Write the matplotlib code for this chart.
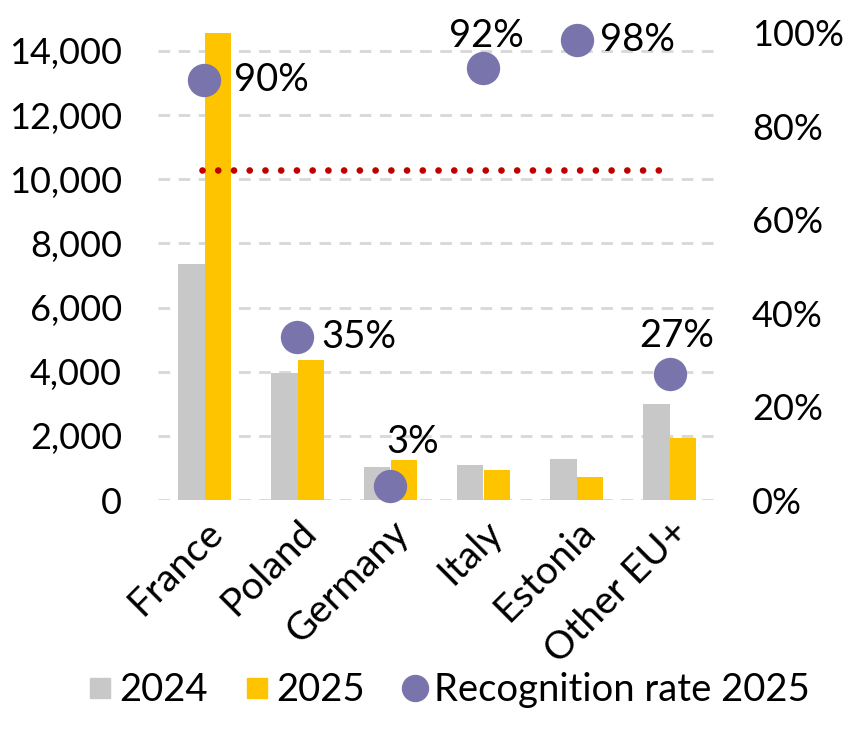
import numpy as np
import matplotlib
matplotlib.use("Agg")
from matplotlib import pyplot as plt
from matplotlib.lines import Line2D
from matplotlib.ticker import FuncFormatter

plt.rcParams['font.family'] = ['Lato', 'DejaVu Sans']

# data
countries = ["France", "Poland", "Germany", "Italy", "Estonia", "Other EU+"]
y2024 = [7350, 3970, 1020, 1090, 1270, 2990]
y2025 = [14560, 4360, 1250, 935, 710, 1940]
recog = [0.90, 0.35, 0.03, 0.925, 0.985, 0.27]
recog_labels = ["90%", "35%", "3%", "92%", "98%", "27%"]
threshold = 0.707
# where each rate label sits relative to its dot (points)
label_off = [(21, 0), (17, 0), (16, 32), (2, 23), (17, 0), (5, 27)]
label_ha = ["left", "left", "center", "center", "left", "center"]

c_grey = "#C8C8C8"
c_yellow = "#FFC400"
c_purple = "#7A74AC"
c_red = "#C00000"

fig = plt.figure(figsize=(8.5, 7.3), dpi=100)
ax = fig.add_axes([158/850, 1-500/730, (716-158)/850, (500-33)/730])
ax2 = ax.twinx()

x = np.arange(len(countries))
w = 0.287
ax.bar(x - w/2, y2024, w, color=c_grey, zorder=2)
ax.bar(x + w/2, y2025, w, color=c_yellow, zorder=2)

ax.set_xlim(-0.5, 5.5)
ax.set_ylim(0, 14560)
ax.set_yticks(np.arange(0, 14001, 2000))
ax.yaxis.set_major_formatter(FuncFormatter(lambda v, p: f"{int(v):,}"))
ax.grid(axis='y', color="#D9D9D9", linestyle=(0, (4.0, 2.9)), linewidth=2.1, zorder=0)
ax.set_axisbelow(True)

ax.set_xticks(x)
ax.set_xticklabels(countries, rotation=45, ha='right', rotation_mode='anchor', fontsize=28)

# threshold line and recognition rates on right axis
ax2.plot([-0.03, 4.9], [threshold, threshold], color=c_red, linewidth=4.8,
         linestyle=(0, (0.01, 2.35)), dash_capstyle='round', zorder=3)
ax2.scatter(x, recog, s=24**2, color=c_purple, zorder=4, linewidths=0, clip_on=False)
for i, r in enumerate(recog):
    dx, dy = label_off[i]
    ax2.annotate(recog_labels[i], (x[i], r), xytext=(dx, dy), textcoords='offset points',
                 ha=label_ha[i], va='center', fontsize=27.5)
ax2.set_ylim(0, 1)
ax2.set_yticks(np.arange(0, 1.01, 0.2))
ax2.yaxis.set_major_formatter(FuncFormatter(lambda v, p: f"{round(v*100)}%"))

for a in (ax, ax2):
    for s in a.spines.values():
        s.set_visible(False)
    a.tick_params(axis='y', length=0, labelsize=26)
ax.tick_params(axis='x', length=0, pad=10)
ax.tick_params(axis='y', pad=26)
ax2.tick_params(axis='y', pad=26)

handles = [
    Line2D([], [], marker='s', linestyle='none', markersize=13.7, color=c_grey),
    Line2D([], [], marker='s', linestyle='none', markersize=13.7, color=c_yellow),
    Line2D([], [], marker='o', linestyle='none', markersize=18.7, color=c_purple),
]
fig.legend(handles, ["2024", "2025", "Recognition rate 2025"], loc='center',
           bbox_to_anchor=(449/850, 1-690/730), ncol=3, frameon=False, fontsize=27.5,
           handlelength=0.6, handletextpad=0.2, columnspacing=1.0, borderpad=0)

fig.savefig("out.png", dpi=100)
